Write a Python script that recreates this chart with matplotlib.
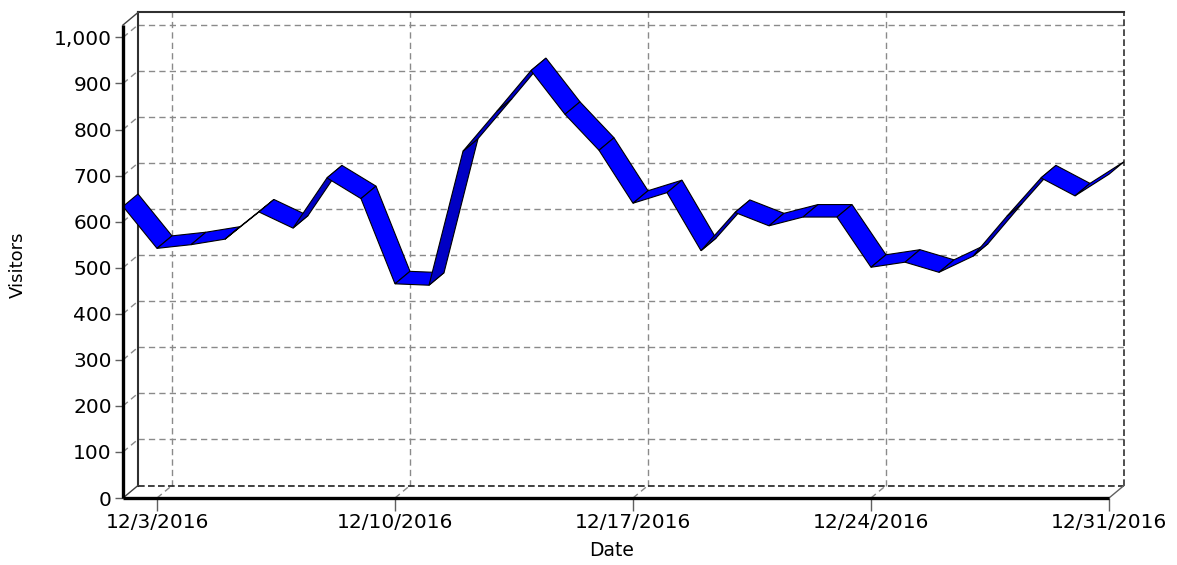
import datetime as dt
import matplotlib
matplotlib.use('Agg')
import matplotlib.pyplot as plt
import matplotlib.dates as mdates

plt.rcParams['font.family'] = ['DejaVu Sans']

# daily visitors, Dec 2 .. Dec 31 2016
dates = [dt.date(2016, 12, d) for d in range(2, 32)]
visitors = [633, 542, 550, 562, 621, 586, 695, 650, 465, 462,
            753, 840, 928, 833, 755, 640, 663, 537, 620, 591,
            610, 610, 501, 512, 490, 525, 612, 695, 656, 703]
tick_dates = [dt.date(2016, 12, d) for d in (3, 10, 17, 24, 31)]
tick_labels = ['12/3/2016', '12/10/2016', '12/17/2016', '12/24/2016', '12/31/2016']
y_ticks = list(range(0, 1001, 100))

W, H = 1177, 565
fig = plt.figure(figsize=(W / 100, H / 100), dpi=100)
ax = fig.add_axes([123 / W, 1 - 498 / H, 986 / W, 473 / H])

x = mdates.date2num(dates)
x0, x1 = x[0], x[-1]
y_top = 1027
ax.set_xlim(x0, x1)
ax.set_ylim(0, y_top)

# depth of the 3d box in data units (about 15 px right, 12.5 px up)
ddx = 15 / 986 * (x1 - x0)
ddy = 12.5 / 473 * y_top
px_x = 986 / (x1 - x0)
px_y = 473 / y_top

grid = dict(color='#8a8a8a', lw=1.0, ls=(0, (4.5, 3)), clip_on=False, zorder=1)

# back wall horizontal grid + short left-wall diagonals
for v in y_ticks[1:]:
    ax.plot([x0 + ddx, x1 + ddx], [v + ddy, v + ddy], **grid)
    ax.plot([x0, x0 + ddx], [v, v + ddy], **grid)

# back wall vertical grid + floor diagonals
for t in mdates.date2num(tick_dates[:-1]):
    ax.plot([t + ddx, t + ddx], [ddy, y_top + ddy], **grid)
    ax.plot([t, t + ddx], [0, ddy], **grid)

# box outline
ax.plot([x0 + ddx, x0 + ddx], [ddy, y_top + ddy], color='#303030', lw=1.5, clip_on=False, zorder=2)
ax.plot([x0 + ddx, x1 + ddx], [y_top + ddy, y_top + ddy], color='#303030', lw=1.5, clip_on=False, zorder=2)
ax.plot([x1 + ddx, x1 + ddx], [ddy, y_top + ddy], color='#303030', lw=1.2,
        ls=(0, (4, 2)), clip_on=False, zorder=2)
ax.plot([x0 + ddx, x1 + ddx], [ddy, ddy], color='#202020', lw=1.2,
        ls=(0, (4, 2)), clip_on=False, zorder=2)
ax.plot([x0, x0 + ddx], [y_top, y_top + ddy], color='#404040', lw=1.0, clip_on=False, zorder=2)
ax.plot([x0, x0 + ddx], [0, ddy], color='#404040', lw=1.0, clip_on=False, zorder=2)
ax.plot([x1, x1 + ddx], [0, ddy], color='#606060', lw=1.0, clip_on=False, zorder=2)

# 3d ribbon
for i in range(len(x) - 1):
    xa, xb = x[i], x[i + 1]
    va, vb = visitors[i], visitors[i + 1]
    sx = (xb - xa) * px_x
    sy = (vb - va) * px_y
    under = sy * 15 > 12.5 * sx
    face = '#0000c4' if under else '#0000ff'
    ax.fill([xa, xb, xb + ddx, xa + ddx], [va, vb, vb + ddy, va + ddy],
            facecolor=face, edgecolor='black', lw=0.8, clip_on=False, zorder=3)

# front axes
ax.plot([x0, x0], [0, y_top], color='black', lw=2.4, clip_on=False, zorder=4,
        solid_capstyle='butt')
ax.plot([x0, x1], [0, 0], color='black', lw=2.4, clip_on=False, zorder=4,
        solid_capstyle='butt')

for s in ax.spines.values():
    s.set_visible(False)

ax.set_xticks(mdates.date2num(tick_dates), tick_labels)
ax.set_yticks(y_ticks, [f'{v:,}' for v in y_ticks])
ax.tick_params(axis='x', length=9, width=1, color='#606060', pad=2, labelsize=14.5)
ax.tick_params(axis='y', length=6, width=1, color='#606060', pad=2, labelsize=14.5)

fig.text(18 / W, 1 - 265 / H, 'Visitors', rotation=90, ha='center', va='center', fontsize=13)
fig.text(612 / W, 1 - 550 / H, 'Date', ha='center', va='center', fontsize=13.5)

fig.savefig('out.png', dpi=100, facecolor='white')
